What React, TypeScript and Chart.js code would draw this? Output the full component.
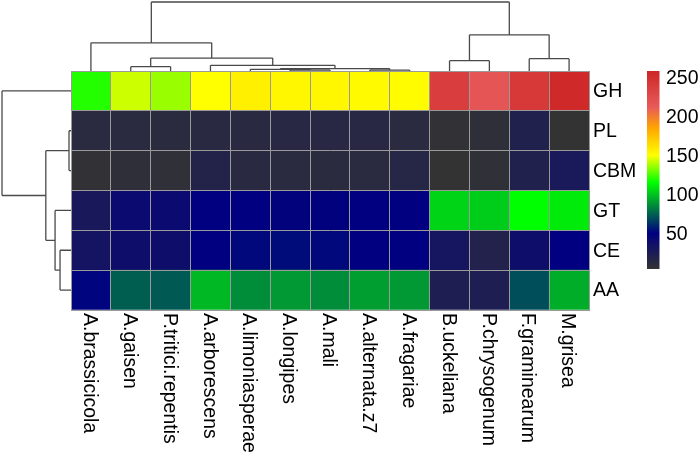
import React, { useEffect, useRef } from 'react';
import { Chart, registerables } from 'chart.js';

Chart.register(...registerables);

// ---- data ----
const columns = [
  'A.brassicicola', 'A.gaisen', 'P.tritici.repentis', 'A.arborescens', 'A.limoniasperae',
  'A.longipes', 'A.mali', 'A.alternata.z7', 'A.fragariae', 'B.uckeliana',
  'P.chrysogenum', 'F.graminearum', 'M.grisea',
];
const rows = ['GH', 'PL', 'CBM', 'GT', 'CE', 'AA'];

const GH = [120, 143, 136, 150, 156, 153, 153, 152, 151, 238, 216, 241, 255];
const PL = [12, 12, 11, 13, 13, 14, 14, 14, 12, 6, 8, 20, 4];
const CBM = [6, 8, 7, 18, 13, 12, 11, 12, 16, 4, 7, 20, 27];
const GT = [28, 41, 41, 50, 50, 48, 49, 50, 50, 104, 102, 115, 110];
const CE = [32, 37, 37, 50, 52, 53, 52, 50, 50, 31, 19, 37, 50];
const AA = [51, 74, 73, 97, 86, 89, 86, 90, 89, 23, 23, 70, 94];
const matrix = [GH, PL, CBM, GT, CE, AA];

const legendTicks = [50, 100, 150, 200, 250];
const legendMin = 4;
const legendMax = 258;

// hclust-style merges: negative = leaf (1-based), positive = earlier merge; height relative to root
const colMerges: [number, number, number][] = [
  [-6, -7, 0.014],
  [-8, -9, 0.014],
  [-5, 1, 0.025],
  [3, 2, 0.033],
  [-4, 4, 0.082],
  [-2, -3, 0.062],
  [6, 5, 0.188],
  [-1, 7, 0.408],
  [-10, -11, 0.149],
  [-12, -13, 0.178],
  [9, 10, 0.524],
  [8, 11, 1.0],
];
const rowMerges: [number, number, number][] = [
  [-2, -3, 0.029],
  [-5, -6, 0.159],
  [-4, 2, 0.231],
  [1, 3, 0.365],
  [-1, 4, 1.0],
];

// ---- styles ----
const colorStops: [number, string][] = [
  [4, '#333333'],
  [50, '#000080'],
  [115, '#00FF00'],
  [150, '#FFFF00'],
  [185, '#FFA500'],
  [212, '#E85A5A'],
  [258, '#CD2626'],
];
const FONT = '19.5px "Liberation Sans", Arial, Helvetica, sans-serif';
const GRID = '#9a9a9a';
const DENDRO = '#4a4a4a';

function hexToRgb(h: string) {
  const n = parseInt(h.slice(1), 16);
  return [(n >> 16) & 255, (n >> 8) & 255, n & 255];
}
function valueColor(v: number) {
  if (v <= colorStops[0][0]) return colorStops[0][1];
  for (let i = 1; i < colorStops.length; i++) {
    const [v1, c1] = colorStops[i];
    const [v0, c0] = colorStops[i - 1];
    if (v <= v1) {
      const f = (v - v0) / (v1 - v0);
      const a = hexToRgb(c0), b = hexToRgb(c1);
      const r = a.map((x, k) => Math.round(x + (b[k] - x) * f));
      return `rgb(${r[0]},${r[1]},${r[2]})`;
    }
  }
  return colorStops[colorStops.length - 1][1];
}

function dendroSegments(merges: [number, number, number][], leafPos: (i: number) => number) {
  const nodes: { pos: number; h: number }[] = [];
  const get = (id: number) => (id < 0 ? { pos: leafPos(-id - 1), h: 0 } : nodes[id - 1]);
  const segs: [number, number, number, number][] = [];
  merges.forEach(([a, b, h]) => {
    const A = get(a);
    const B = get(b);
    segs.push([A.pos, A.h, A.pos, h]);
    segs.push([B.pos, B.h, B.pos, h]);
    segs.push([A.pos, h, B.pos, h]);
    nodes.push({ pos: (A.pos + B.pos) / 2, h });
  });
  return segs;
}

const heatmapDecor = {
  id: 'heatmapDecor',
  afterDraw(chart: any) {
    const ctx = chart.ctx as CanvasRenderingContext2D;
    const area = chart.chartArea;
    const xs = chart.scales.x;
    const ys = chart.scales.y;
    const rowCenter = (r: number) => ys.getPixelForValue(rows.length - r - 0.5);
    ctx.save();

    // column dendrogram
    ctx.strokeStyle = DENDRO;
    ctx.lineWidth = 1.3;
    const colRootY = 2;
    const cy = (h: number) => area.top - h * (area.top - colRootY);
    ctx.beginPath();
    dendroSegments(colMerges, (i) => xs.getPixelForValue(i)).forEach(([p0, h0, p1, h1]) => {
      ctx.moveTo(p0, cy(h0));
      ctx.lineTo(p1, cy(h1));
    });
    ctx.stroke();

    // row dendrogram
    const rowRootX = 2;
    const rx = (h: number) => area.left - h * (area.left - rowRootX);
    ctx.beginPath();
    dendroSegments(rowMerges, rowCenter).forEach(([p0, h0, p1, h1]) => {
      ctx.moveTo(rx(h0), p0);
      ctx.lineTo(rx(h1), p1);
    });
    ctx.stroke();

    // labels
    ctx.fillStyle = '#000';
    ctx.font = FONT;
    ctx.textAlign = 'left';
    ctx.textBaseline = 'middle';
    rows.forEach((r, i) => {
      ctx.fillText(r, area.right + 4, rowCenter(i) + 1);
    });
    columns.forEach((c, i) => {
      ctx.save();
      ctx.translate(xs.getPixelForValue(i) - 1.5, area.bottom + 3);
      ctx.rotate(Math.PI / 2);
      ctx.fillText(c, 0, 0);
      ctx.restore();
    });

    // colour key
    const cbLeft = area.right + 58;
    const cbWidth = 12.5;
    const cbTop = area.top;
    const cbBottom = area.top + 198;
    const cbY = (v: number) => cbBottom - ((v - legendMin) / (legendMax - legendMin)) * (cbBottom - cbTop);
    const grad = ctx.createLinearGradient(0, cbBottom, 0, cbTop);
    colorStops.forEach(([v, c]) => {
      grad.addColorStop((v - legendMin) / (legendMax - legendMin), c);
    });
    ctx.fillStyle = grad;
    ctx.fillRect(cbLeft, cbTop, cbWidth, cbBottom - cbTop);
    ctx.fillStyle = '#000';
    legendTicks.forEach((t) => {
      ctx.fillText(String(t), cbLeft + 19, cbY(t) + 1);
    });
    ctx.restore();
  },
};

export default function App() {
  const ref = useRef<HTMLCanvasElement>(null);
  useEffect(() => {
    if (!ref.current) return;
    const datasets = rows
      .map((r, i) => ({
        label: r,
        data: columns.map(() => 1),
        backgroundColor: matrix[i].map(valueColor),
        borderWidth: 0,
        barPercentage: 1,
        categoryPercentage: 1,
      }))
      .reverse();
    const chart = new Chart(ref.current, {
      type: 'bar',
      data: { labels: columns, datasets },
      options: {
        animation: false,
        responsive: false,
        devicePixelRatio: 1,
        layout: { padding: { left: 71, top: 71, right: 111, bottom: 149 } },
        plugins: { legend: { display: false }, tooltip: { enabled: false } },
        scales: {
          x: {
            type: 'category',
            stacked: true,
            offset: true,
            grid: { offset: true, color: GRID, lineWidth: 1, drawTicks: false, z: 1 },
            border: { color: GRID, z: 1 },
            ticks: { display: false },
          },
          y: {
            type: 'linear',
            stacked: true,
            min: 0,
            max: 6,
            grid: { color: GRID, lineWidth: 1, drawTicks: false, z: 1 },
            border: { color: GRID, z: 1 },
            ticks: { display: false, stepSize: 1 },
          },
        },
      },
      plugins: [heatmapDecor],
    } as any);
    return () => chart.destroy();
  }, []);
  return (
    <div style={{ position: 'absolute', left: 0, top: 0, width: 700, height: 459, background: '#fff' }}>
      <canvas ref={ref} width={700} height={459} style={{ display: 'block' }} />
    </div>
  );
}
